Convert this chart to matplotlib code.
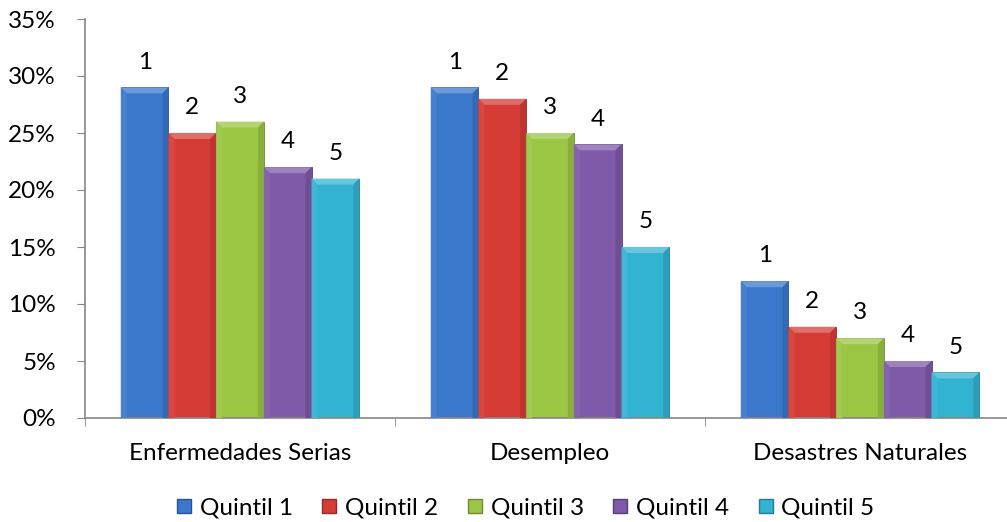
import matplotlib.pyplot as plt
import matplotlib.colors as mcolors
from matplotlib.patches import Polygon
from matplotlib.lines import Line2D
import numpy as np

categorias = ['Enfermedades Serias', 'Desempleo', 'Desastres Naturales']
series = ['Quintil 1', 'Quintil 2', 'Quintil 3', 'Quintil 4', 'Quintil 5']
etiquetas = ['1', '2', '3', '4', '5']
q1 = [29, 29, 12]
q2 = [25, 28, 8]
q3 = [26, 25, 7]
q4 = [22, 24, 5]
q5 = [21, 15, 4]
valores = [q1, q2, q3, q4, q5]
colores = ['#3B78CC', '#D63C36', '#9AC644', '#7E5AA8', '#33B3D2']

plt.rcParams['font.family'] = ['Lato', 'DejaVu Sans']
fs = 17.5

fig = plt.figure(figsize=(10.07, 5.22), dpi=100)
ax = fig.add_axes([85 / 1007, 104 / 522, 930 / 1007, 399 / 522])

n = len(series)
ancho = 1 / (n + 1.5)
x = np.arange(len(categorias))


def tono(color, f):
    """Aclarar (f>0) u oscurecer (f<0) un color"""
    r, g, b = mcolors.to_rgb(color)
    if f > 0:
        return (r + (1 - r) * f, g + (1 - g) * f, b + (1 - b) * f)
    return (r * (1 + f), g * (1 + f), b * (1 + f))


# tamaño del bisel en unidades de datos (aprox. 6 px)
bx = 6 / 310
by = 6 / 399 * 35

for i, (vals, col) in enumerate(zip(valores, colores)):
    pos = x - 0.5 + 0.75 * ancho + i * ancho + ancho / 2
    ax.bar(pos, vals, width=ancho, color=col, edgecolor=tono(col, -0.3),
           linewidth=0.6, zorder=2)
    for xc, v in zip(pos, vals):
        x0, x1 = xc - ancho / 2, xc + ancho / 2
        # bisel superior (claro)
        ax.add_patch(Polygon([(x0, v), (x1, v), (x1 - bx, v - by), (x0 + bx, v - by)],
                             closed=True, facecolor=tono(col, 0.25), edgecolor='none', zorder=3))
        # lado izquierdo (algo claro)
        ax.add_patch(Polygon([(x0, v), (x0 + bx, v - by), (x0 + bx, 0), (x0, 0)],
                             closed=True, facecolor=tono(col, 0.06), edgecolor='none', zorder=3))
        # lado derecho (oscuro)
        ax.add_patch(Polygon([(x1, v), (x1 - bx, v - by), (x1 - bx, 0), (x1, 0)],
                             closed=True, facecolor=tono(col, -0.12), edgecolor='none', zorder=3))
        ax.text(xc, v + 1.3, etiquetas[i], ha='center', va='bottom', fontsize=fs)

ax.set_xlim(-0.5, len(categorias) - 0.5)
ax.set_ylim(0, 35)
ax.set_yticks(np.arange(0, 36, 5))
ax.set_yticklabels([f'{t}%' for t in range(0, 36, 5)], fontsize=fs)
ax.set_xticks(x)
ax.set_xticklabels(categorias, fontsize=fs)
ax.tick_params(axis='x', length=0, pad=18)
ax.tick_params(axis='y', length=6, color='#868686', pad=15)
ax.set_xticks(np.arange(len(categorias) + 1) - 0.5, minor=True)
ax.tick_params(axis='x', which='minor', length=6, color='#868686')

for lado in ['top', 'right']:
    ax.spines[lado].set_visible(False)
for lado in ['left', 'bottom']:
    ax.spines[lado].set_color('#868686')
    ax.spines[lado].set_linewidth(1.2)

manejadores = [Line2D([], [], marker='s', linestyle='none', markersize=10.5,
                      markerfacecolor=c, markeredgecolor=tono(c, -0.3))
               for c in colores]
fig.legend(manejadores, series, loc='center', bbox_to_anchor=(525 / 1007, 14 / 522),
           ncol=5, frameon=False, fontsize=fs, handlelength=0.7,
           handletextpad=0.3, columnspacing=1.15, borderpad=0)

fig.savefig('out.png', dpi=100)
